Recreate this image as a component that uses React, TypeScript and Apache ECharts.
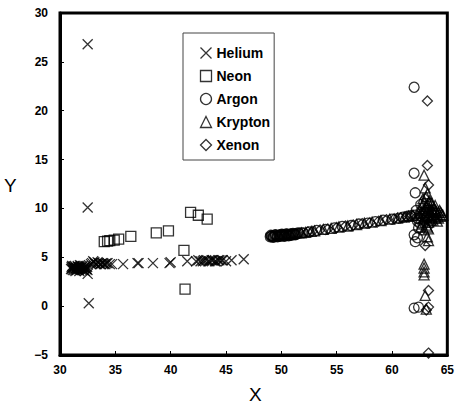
import React, { useEffect, useRef } from "react";
import * as echarts from "echarts";

const seriesNames = ["Helium", "Neon", "Argon", "Krypton", "Xenon"];

const helium: number[][] = [
  [31.0, 3.8], [31.05, 4.0], [31.1, 4.1], [31.15, 3.7], [31.2, 4.0], [31.25, 3.9], [31.3, 3.7],
  [31.35, 4.1], [31.4, 3.6], [31.45, 3.9], [31.5, 3.9], [31.55, 3.7], [31.6, 4.1], [31.65, 4.0],
  [31.7, 3.8], [31.75, 3.6], [31.8, 4.2], [31.85, 3.9], [31.9, 3.9], [31.95, 3.7], [32.0, 4.0],
  [32.05, 4.1], [32.1, 3.7], [32.15, 3.9], [32.2, 3.9], [32.25, 3.6], [32.3, 4.1], [32.35, 3.8],
  [32.4, 3.8], [32.45, 4.0], [31.08, 3.85], [31.28, 4.05], [31.48, 3.75], [31.68, 3.95],
  [31.88, 4.1], [32.08, 3.8], [32.28, 4.0], [32.48, 3.7],
  [32.5, 3.3], [32.5, 26.8], [32.5, 10.1], [32.6, 0.3],
  [32.8, 4.3], [32.9, 4.4], [33.0, 4.6], [33.1, 4.5], [33.2, 4.3], [33.3, 4.3], [33.4, 4.5],
  [33.5, 4.4], [33.6, 4.3], [33.7, 4.3], [33.8, 4.4], [33.9, 4.4], [34.0, 4.3], [34.1, 4.3],
  [34.2, 4.4], [34.3, 4.4], [34.5, 4.3], [34.7, 4.3], [35.7, 4.3], [37.0, 4.4], [37.1, 4.4],
  [38.4, 4.4], [39.9, 4.4], [40.0, 4.5], [41.5, 4.6], [42.3, 4.6], [42.5, 4.7], [42.7, 4.6],
  [42.9, 4.6], [43.0, 4.7], [43.2, 4.7], [43.4, 4.6], [43.5, 4.6], [43.7, 4.7], [43.8, 4.7],
  [44.0, 4.6], [44.1, 4.6], [44.3, 4.7], [44.4, 4.7], [44.6, 4.7], [44.7, 4.7], [45.0, 4.6],
  [45.5, 4.7], [46.6, 4.8],
];

const neon: number[][] = [
  [34.0, 6.6], [34.3, 6.65], [34.5, 6.7], [34.9, 6.75], [35.3, 6.85], [36.4, 7.15],
  [38.7, 7.5], [39.8, 7.7], [41.2, 5.7], [41.3, 1.75], [41.8, 9.6], [42.5, 9.3], [43.3, 8.9],
];

const argon: number[][] = [
  [49.0, 7.1], [49.1, 7.15], [49.2, 7.2], [49.3, 7.1], [49.4, 7.15], [49.5, 7.25], [49.6, 7.2],
  [49.7, 7.15], [49.8, 7.25], [49.9, 7.3], [50.0, 7.2], [50.1, 7.25], [50.2, 7.3], [50.3, 7.2],
  [50.4, 7.25], [50.5, 7.35], [50.6, 7.3], [50.7, 7.25], [50.8, 7.35], [50.9, 7.4], [51.0, 7.3],
  [51.1, 7.35], [51.2, 7.4], [51.3, 7.35], [51.4, 7.4], [51.5, 7.5], [51.6, 7.45],
  [49.05, 7.25], [49.25, 7.05], [49.45, 7.3], [49.65, 7.1], [49.85, 7.15], [50.05, 7.35],
  [50.25, 7.15], [50.45, 7.4], [50.65, 7.2], [50.85, 7.25], [51.05, 7.45], [51.25, 7.3],
  [51.8, 7.5], [52.0, 7.5], [52.5, 7.6], [53.2, 7.75], [54.0, 7.85], [54.8, 8.0], [55.5, 8.15],
  [56.3, 8.25], [57.0, 8.4], [57.8, 8.5], [58.5, 8.65], [59.2, 8.8], [60.0, 8.9], [60.6, 9.0],
  [61.0, 9.1], [61.4, 9.2], [61.7, 9.25],
  [62.3, 9.0], [62.5, 8.5], [62.2, 9.8], [62.6, 10.4], [62.4, 8.0], [62.1, 9.3], [62.3, 8.7],
  [62.0, 22.4], [62.0, 13.6], [62.1, 11.6], [62.0, 7.3], [62.3, 7.0], [62.1, 6.6],
  [62.0, -0.2], [62.4, -0.1],
];

const krypton: number[][] = [
  [51.8, 7.5], [52.2, 7.55], [52.7, 7.65], [53.0, 7.7], [53.8, 7.85], [54.5, 7.95], [55.2, 8.1],
  [56.0, 8.2], [56.8, 8.35], [57.5, 8.5], [58.2, 8.6], [59.0, 8.75], [59.8, 8.9], [60.5, 9.0],
  [61.1, 9.1], [61.5, 9.2], [61.9, 9.3],
  [62.4, 9.5], [62.6, 9.0], [62.8, 9.8], [63.0, 8.6], [63.1, 10.2], [63.3, 9.3], [63.5, 8.8],
  [63.6, 9.9], [63.8, 9.4], [64.0, 9.1], [64.2, 9.6], [64.4, 9.2], [62.9, 10.6], [63.2, 8.1],
  [63.4, 10.8], [62.7, 8.4], [63.7, 10.3], [64.1, 8.7], [63.9, 9.8], [62.5, 10.0], [63.0, 9.2],
  [63.5, 9.6], [62.9, 7.8], [63.1, 9.6], [63.3, 8.6], [63.6, 9.2], [63.8, 10.0], [64.3, 9.8],
  [64.5, 9.4], [62.6, 9.6], [62.8, 8.9], [63.2, 10.4], [63.4, 9.0], [63.9, 9.0], [64.1, 9.4],
  [62.7, 10.2], [62.9, 9.1], [63.1, 8.3], [63.3, 10.6], [63.5, 9.1], [63.7, 8.8], [63.9, 10.3],
  [64.0, 9.7], [64.2, 9.0], [64.4, 9.6], [64.6, 9.3], [63.0, 10.0], [63.4, 9.8], [63.6, 10.5],
  [62.8, 11.0], [63.1, 11.2], [63.3, 7.9], [62.6, 8.1],
  [62.9, 13.4], [63.0, 12.1], [63.2, 11.5], [63.2, 7.1], [63.3, 6.7], [62.9, 4.3], [62.9, 3.9],
  [62.9, 3.5], [62.9, 3.2], [63.0, 1.1], [63.1, -0.3],
];

const xenon: number[][] = [
  [52.4, 7.6], [52.8, 7.65], [53.5, 7.8], [54.2, 7.9], [55.0, 8.05], [55.8, 8.2], [56.5, 8.3],
  [57.3, 8.45], [58.0, 8.55], [58.8, 8.7], [59.5, 8.85], [60.2, 8.95], [60.8, 9.05], [61.3, 9.15],
  [61.8, 9.3],
  [62.8, 9.4], [63.3, 10.0], [63.6, 8.5], [63.0, 11.0], [63.2, 8.9], [62.5, 9.2], [63.8, 9.6],
  [63.2, 21.0], [63.2, 14.4], [63.3, 12.4], [63.0, 6.2], [63.3, 1.6], [63.1, -0.4], [63.3, -0.1],
  [63.3, -4.8],
];

const xTicks = { min: 30, max: 65, interval: 5 };
const yTicks = { min: -5, max: 30, interval: 5 };

const FONT = "'Liberation Sans', Arial, sans-serif";

export default function App() {
  const ref = useRef<HTMLDivElement>(null);
  useEffect(() => {
    if (!ref.current) return;
    const chart = echarts.init(ref.current, undefined, { renderer: "svg" });
    const hollow = { color: "none", borderColor: "#000", borderWidth: 1.3 };
    const datas = [helium, neon, argon, krypton, xenon];
    const symbols = [
      "path://M0,0L10,10M10,0L0,10",
      "rect",
      "circle",
      "triangle",
      "diamond",
    ];
    const sizes = [10, 10, 10, 10, 10];
    chart.setOption({
      animation: false,
      backgroundColor: "#fff",
      grid: {
        left: 60,
        top: 13,
        right: 6,
        bottom: 52,
        show: true,
        borderColor: "#000",
        borderWidth: 3,
        containLabel: false,
      },
      legend: {
        orient: "vertical",
        left: 183,
        top: 33,
        itemWidth: 11,
        itemHeight: 11,
        itemGap: 7,
        padding: [12, 4, 7, 15],
        borderColor: "#444",
        borderWidth: 1,
        backgroundColor: "#fff",
        textStyle: { fontSize: 14, fontWeight: "bold", color: "#000", fontFamily: FONT },
        data: seriesNames.map((n, i) => ({ name: n, icon: symbols[i], itemStyle: hollow })),
      },
      xAxis: {
        type: "value",
        min: xTicks.min,
        max: xTicks.max,
        interval: xTicks.interval,
        splitLine: { show: false },
        axisLine: { show: true, onZero: false, lineStyle: { color: "#000", width: 3 } },
        axisTick: { show: true, inside: true, length: 4, lineStyle: { color: "#000" } },
        axisLabel: { fontSize: 12, fontWeight: "bold", color: "#000", fontFamily: FONT, margin: 9 },
      },
      yAxis: {
        type: "value",
        min: yTicks.min,
        max: yTicks.max,
        interval: yTicks.interval,
        splitLine: { show: false },
        axisLine: { show: true, onZero: false, lineStyle: { color: "#000", width: 3 } },
        axisTick: { show: true, inside: true, length: 4, lineStyle: { color: "#000" } },
        axisLabel: {
          fontSize: 12,
          fontWeight: "bold",
          color: "#000",
          fontFamily: FONT,
          margin: 12,
          formatter: (v: number) => String(v).replace("-", "\u2212"),
        },
      },
      graphic: [
        {
          type: "text",
          left: 249,
          top: 385,
          style: { text: "X", fontSize: 19, fontFamily: FONT, fill: "#000" },
        },
        {
          type: "text",
          left: 4,
          top: 176,
          style: { text: "Y", fontSize: 19, fontFamily: FONT, fill: "#000" },
        },
      ],
      series: datas.map((d, i) => ({
        name: seriesNames[i],
        type: "scatter",
        data: d,
        symbol: symbols[i],
        symbolSize: sizes[i],
        itemStyle: hollow,
        emphasis: { disabled: true },
      })),
    });
    return () => chart.dispose();
  }, []);
  return <div ref={ref} style={{ width: 457, height: 407, position: "absolute", left: 0, top: 0 }} />;
}
